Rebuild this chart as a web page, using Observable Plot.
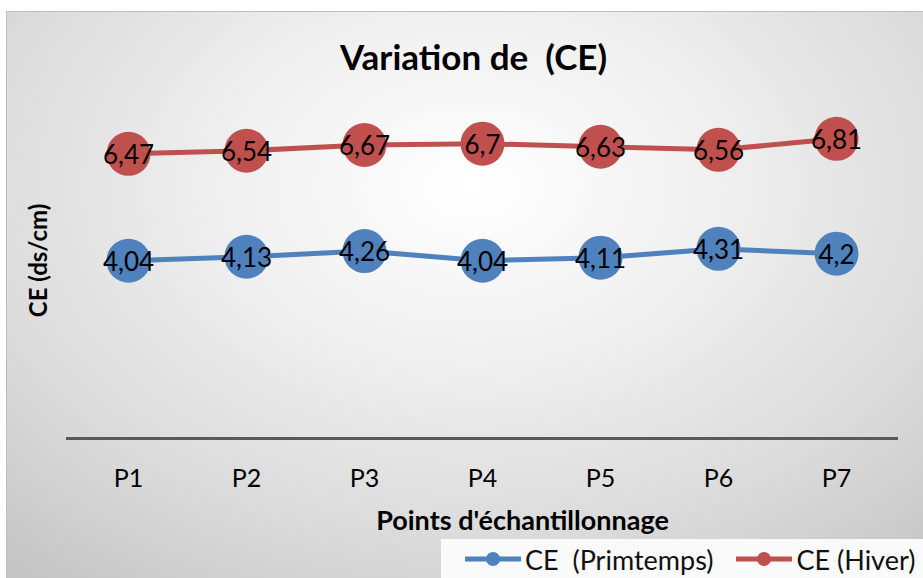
<!DOCTYPE html>
<html>
<head>
<meta charset="utf-8">
<script src="https://cdn.jsdelivr.net/npm/d3@7"></script>
<script src="https://cdn.jsdelivr.net/npm/@observablehq/plot@0.6"></script>
<style>
  html, body { margin: 0; padding: 0; background: #fff; width: 923px; height: 578px; overflow: hidden; font-family: Lato, "Open Sans", sans-serif; }
  #panel { position: absolute; left: 6px; top: 11px; width: 930px; height: 580px; border: 1px solid #bdbdbd;
    background: radial-gradient(ellipse 75% 85% at 50% 30%, #ffffff 0%, #f0f0f0 35%, #d9d9d9 75%, #c6c6c6 100%); }
  #chart { position: absolute; left: 0; top: 0; }
  #legend { position: absolute; left: 441px; top: 539px; width: 490px; height: 40px; background: #fafafa;
    display: flex; align-items: center; font-size: 27px; color: #111; white-space: pre; }
  .item { display: flex; align-items: center; }
  .item svg { margin-right: 3px; }
</style>
</head>
<body>
<div id="panel"></div>
<div id="chart"></div>
<div id="legend"></div>
<script>
const points = ["P1", "P2", "P3", "P4", "P5", "P6", "P7"];
const printemps = [4.04, 4.13, 4.26, 4.04, 4.11, 4.31, 4.2];
const hiver = [6.47, 6.54, 6.67, 6.7, 6.63, 6.56, 6.81];
const seriesNames = ["CE  (Primtemps)", "CE (Hiver)"];
const seriesColors = ["#4F81BD", "#C0504D"];
const yDomain = [0, 8];

const data = [];
points.forEach((p, i) => {
  data.push({point: p, value: printemps[i], series: seriesNames[0]});
  data.push({point: p, value: hiver[i], series: seriesNames[1]});
});
const fmt = v => String(v).replace(".", ",");

const plot = Plot.plot({
  width: 923,
  height: 578,
  marginLeft: 66,
  marginRight: 25,
  marginTop: 86,
  marginBottom: 140,
  style: {background: "transparent", fontFamily: "Lato, 'Open Sans', sans-serif", color: "#000"},
  x: {type: "point", domain: points, padding: 0.5, label: null},
  y: {domain: yDomain, axis: null},
  color: {domain: seriesNames, range: seriesColors},
  marks: [
    Plot.ruleY([0], {stroke: "#595959", strokeWidth: 3}),
    Plot.axisX({tickSize: 0, tickPadding: 31, fontSize: 25, label: null}),
    Plot.line(data, {x: "point", y: "value", z: "series", stroke: "series", strokeWidth: 5}),
    Plot.dot(data, {x: "point", y: "value", fill: "series", r: 22}),
    Plot.text(data, {x: "point", y: "value", text: d => fmt(d.value), fontSize: 26, fill: "#000", dy: 2}),
    Plot.text(["Variation de  (CE)"], {frameAnchor: "top", lineAnchor: "middle", dy: -28, dx: -9, fontSize: 35, fontWeight: "bold", fill: "#000"}),
    Plot.text(["CE (ds/cm)"], {frameAnchor: "left", textAnchor: "middle", rotate: -90, dx: -27, dy: -2, fontSize: 24, fontWeight: "bold", fill: "#000"}),
    Plot.text(["Points d'échantillonnage"], {frameAnchor: "bottom", lineAnchor: "middle", dy: 83, dx: 40, fontSize: 27, fontWeight: "bold", fill: "#000"})
  ]
});
document.getElementById("chart").appendChild(plot);

const legend = document.getElementById("legend");
const offsets = [23, 22];
seriesNames.forEach((name, i) => {
  const item = document.createElement("div");
  item.className = "item";
  item.style.marginLeft = offsets[i] + "px";
  item.innerHTML = `<svg width="58" height="20"><line x1="1" y1="10" x2="57" y2="10" stroke="${seriesColors[i]}" stroke-width="5"/><circle cx="29" cy="10" r="7" fill="${seriesColors[i]}"/></svg><span>${name}</span>`;
  legend.appendChild(item);
});
</script>
</body>
</html>
